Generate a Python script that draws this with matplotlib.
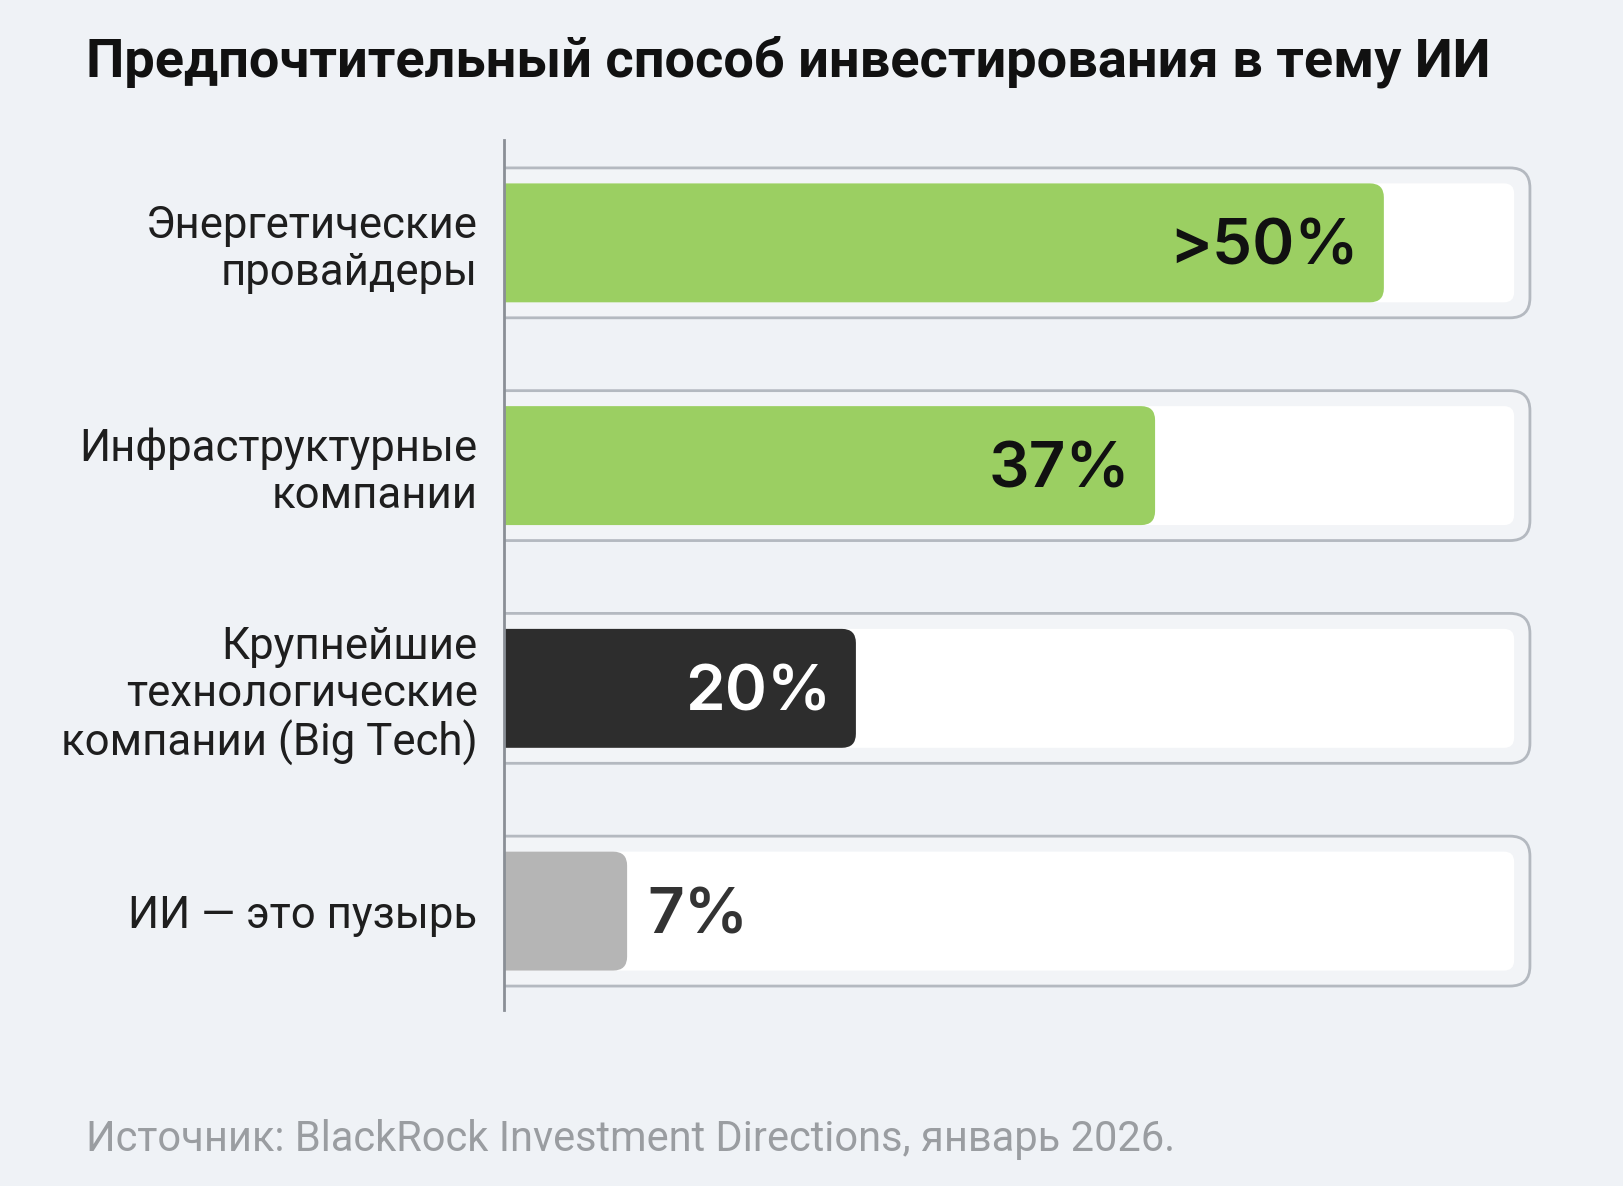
import matplotlib.pyplot as plt
from matplotlib.patches import FancyBboxPatch

plt.rcParams['font.family'] = ['Roboto', 'DejaVu Sans']

# data
categories = ['Энергетические\nпровайдеры',
              'Инфраструктурные\nкомпании',
              'Крупнейшие\nтехнологические\nкомпании (Big Tech)',
              'ИИ — это пузырь']
values = [50, 37, 20, 7]
value_labels = ['>50%', '37%', '20%', '7%']
bar_colors = ['#9bcf62', '#9bcf62', '#2d2d2d', '#b5b5b5']
text_colors = ['#111111', '#111111', '#ffffff', '#333333']
label_inside = [True, True, True, False]
track_max = 57.4
box_max = 58.3

title = 'Предпочтительный способ инвестирования в тему ИИ'
source = 'Источник: BlackRock Investment Directions, январь 2026.'

BG = '#eff2f6'
fig = plt.figure(figsize=(16.24, 11.86), dpi=100, facecolor=BG)
ax = fig.add_axes([0.3103, 0.1484, 0.6502, 0.7336])
ax.set_facecolor('none')

ypos = list(range(len(categories)))
ax.set_xlim(0, 60)
ax.set_ylim(3.444, -0.462)

# pixel scale to keep corners round
fig.canvas.draw()
px_x = ax.transData.transform((1, 0))[0] - ax.transData.transform((0, 0))[0]
px_y = abs(ax.transData.transform((0, 1))[1] - ax.transData.transform((0, 0))[1])
aspect = px_x / px_y


def rbox(x0, x1, yc, h, r_px, **kw):
    r = r_px / px_x
    p = FancyBboxPatch((x0, yc - h / 2), x1 - x0, h,
                       boxstyle=f'round,pad=0,rounding_size={r}',
                       mutation_aspect=aspect, **kw)
    ax.add_patch(p)
    return p


for y, v, lab, c, tc, inside in zip(ypos, values, value_labels, bar_colors,
                                    text_colors, label_inside):
    rbox(-3, box_max, y, 0.673, 20, facecolor='#f2f4f7', edgecolor='#b4b9c0',
         linewidth=2, zorder=1)
    rbox(-3, track_max, y, 0.534, 10, facecolor='#ffffff', edgecolor='none',
         zorder=2)
    rbox(-3, v, y, 0.534, 14, facecolor=c, edgecolor='none', zorder=3)
    if inside:
        ax.text(v - 1.4, y + 0.025, lab, ha='right', va='center', fontsize=46,
                fontweight='semibold', color=tc, zorder=4,
                family=['Inter', 'DejaVu Sans'])
    else:
        ax.text(v + 1.15, y + 0.025, lab, ha='left', va='center', fontsize=46,
                fontweight='semibold', color=tc, zorder=4,
                family=['Inter', 'DejaVu Sans'])

ax.set_yticks(ypos)
ax.set_yticklabels(categories, fontsize=31.5, color='#1e1e1e', linespacing=1.15)
ax.tick_params(axis='y', length=0, pad=19)
ax.set_xticks([])
for s in ['top', 'right', 'bottom']:
    ax.spines[s].set_visible(False)
ax.spines['left'].set_color('#8a8f96')
ax.spines['left'].set_linewidth(2)
ax.spines['left'].set_zorder(5)

fig.text(86 / 1624, 1 - 62 / 1186, title, ha='left', va='center',
         fontsize=39, fontweight='bold', color='#111111')
fig.text(86 / 1624, 1 - 1139 / 1186, source, ha='left', va='center',
         fontsize=30, color='#9a9da1')

fig.savefig('out.png', dpi=100, facecolor=BG)
